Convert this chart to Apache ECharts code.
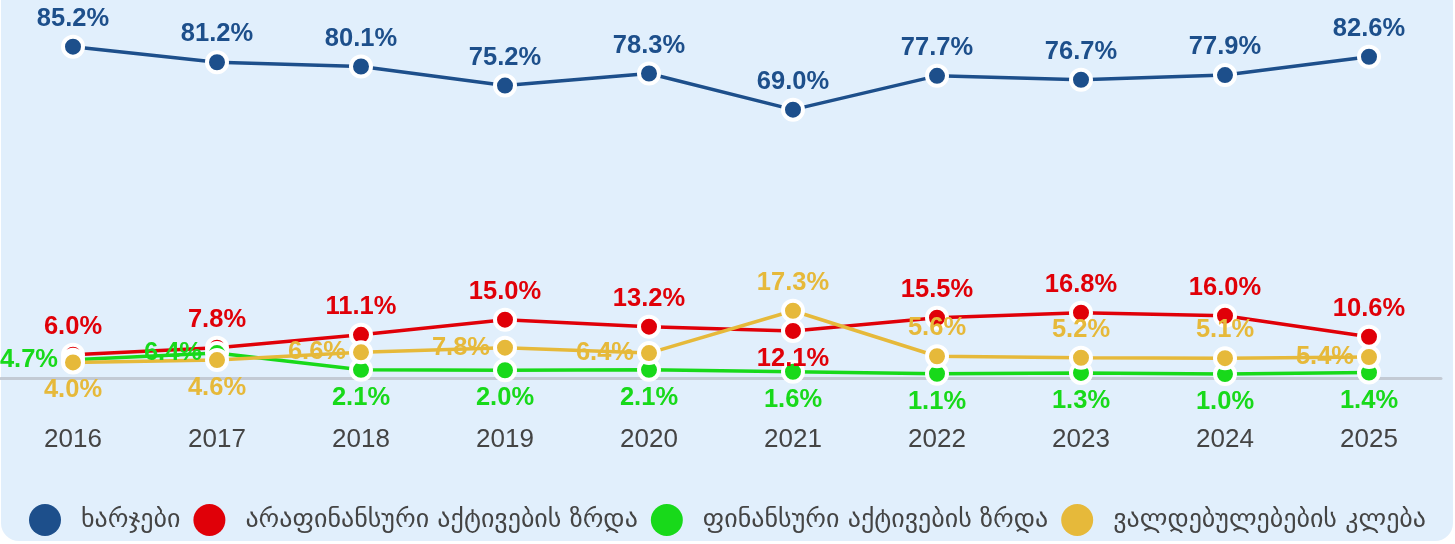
<!DOCTYPE html>
<html>
<head>
<meta charset="utf-8">
<script src="https://cdn.jsdelivr.net/npm/echarts@6/dist/echarts.min.js"></script>
<style>
  html, body { margin: 0; padding: 0; background: #ffffff; overflow: hidden; }
  .bg {
    position: absolute; left: 1px; top: -30px; width: 1452px; height: 571px;
    background: #e1effc; border-radius: 18px;
  }
  #chart { position: absolute; left: 0; top: 0; width: 1455px; height: 544px; }
</style>
</head>
<body>
<div class="bg"></div>
<div id="chart"></div>
<script>
// data
const years = ['2016', '2017', '2018', '2019', '2020', '2021', '2022', '2023', '2024', '2025'];
const expenses = [85.2, 81.2, 80.1, 75.2, 78.3, 69.0, 77.7, 76.7, 77.9, 82.6];
const nonFinAssets = [6.0, 7.8, 11.1, 15.0, 13.2, 12.1, 15.5, 16.8, 16.0, 10.6];
const finAssets = [4.7, 6.4, 2.1, 2.0, 2.1, 1.6, 1.1, 1.3, 1.0, 1.4];
const liabDecrease = [4.0, 4.6, 6.6, 7.8, 6.4, 17.3, 5.6, 5.2, 5.1, 5.4];

const names = ['ხარჯები', 'არაფინანსური აქტივების ზრდა', 'ფინანსური აქტივების ზრდა', 'ვალდებულებების კლება'];
const colors = ['#1d4f8b', '#e00008', '#18d91a', '#e6b93a'];

// where each value label sits
const labelPos = [
  ['top', 'top', 'top', 'top', 'top', 'top', 'top', 'top', 'top', 'top'],
  ['top', 'top', 'top', 'top', 'top', 'bottom', 'top', 'top', 'top', 'top'],
  ['left', 'left', 'bottom', 'bottom', 'bottom', 'bottom', 'bottom', 'bottom', 'bottom', 'bottom'],
  ['bottom', 'bottom', 'left', 'left', 'left', 'top', 'top', 'top', 'top', 'left']
];

const chart = echarts.init(document.getElementById('chart'));

function makeSeries(idx, values) {
  return {
    name: names[idx],
    type: 'line',
    data: values.map(function (v, i) {
      return { value: v, label: { position: labelPos[idx][i] } };
    }),
    symbol: 'circle',
    symbolSize: 20,
    lineStyle: { width: 3.5, color: colors[idx] },
    itemStyle: { color: colors[idx], borderColor: '#ffffff', borderWidth: 4 },
    label: {
      show: true,
      distance: 3,
      color: colors[idx],
      fontSize: 25.5,
      fontWeight: 'bold',
      fontFamily: 'Liberation Sans, Arial, sans-serif',
      formatter: function (p) { return p.value.toFixed(1) + '%'; }
    },
    emphasis: { disabled: true },
    animation: false
  };
}

chart.setOption({
  color: colors,
  grid: { left: 1, right: 14, top: 28, bottom: 166 },
  xAxis: {
    type: 'category',
    data: years,
    axisLine: { lineStyle: { color: '#c3cad4', width: 3 } },
    axisTick: { show: false },
    axisLabel: {
      margin: 49,
      color: '#444444',
      fontSize: 26,
      fontFamily: 'Liberation Sans, Arial, sans-serif'
    }
  },
  yAxis: {
    type: 'value',
    min: 0,
    max: 90,
    show: false
  },
  legend: {
    bottom: 3,
    left: 'center',
    icon: 'circle',
    itemWidth: 32,
    itemHeight: 32,
    itemGap: 13,
    itemStyle: { borderWidth: 0 },
    textStyle: {
      color: '#444444',
      fontSize: 26,
      padding: [0, 0, 0, 15],
      fontFamily: 'DejaVu Sans, sans-serif'
    },
    data: names
  },
  series: [
    makeSeries(0, expenses),
    makeSeries(1, nonFinAssets),
    makeSeries(2, finAssets),
    makeSeries(3, liabDecrease)
  ]
});
</script>
</body>
</html>
